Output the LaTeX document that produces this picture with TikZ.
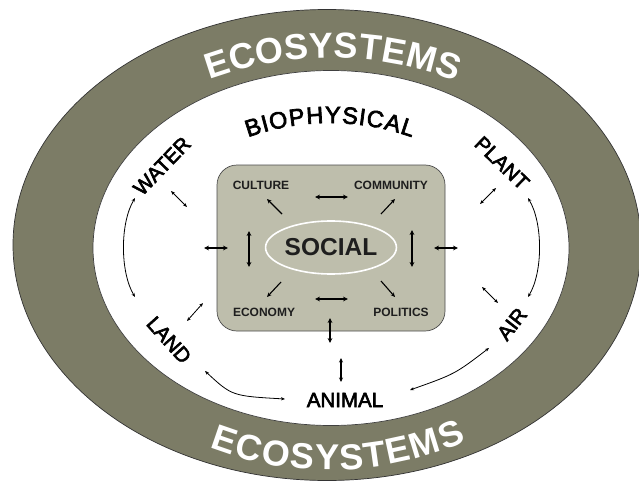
\documentclass[tikz,border=0pt]{standalone}
\usepackage{fontspec}
\setmainfont{Liberation Sans}
\newfontfamily\lblfont[BoldFont=Liberation Sans, BoldFeatures={FakeBold=3}]{Liberation Sans}
\usetikzlibrary{arrows.meta,shapes.geometric,decorations.text}
\definecolor{band}{HTML}{7C7C66}
\definecolor{boxfill}{HTML}{BEBEAC}
\definecolor{boxtext}{HTML}{1E1E1E}
\newcommand\ecoF{\bfseries\fontsize{36}{40}\selectfont}
\newcommand\bioF{\lblfont\bfseries\fontsize{23.5}{26}\selectfont}
\tikzset{
  x=1pt, y=1pt,
  lbl/.style={font=\lblfont\bfseries\fontsize{20.5}{24}\selectfont, text=black, inner sep=0pt},
  boxlbl/.style={font=\bfseries\fontsize{12}{14}\selectfont, text=boxtext, inner sep=0pt},
  thinarr/.style={line width=0.8pt, {Stealth[length=4pt,width=3.2pt]}-{Stealth[length=4pt,width=3.2pt]}},
  diagarr/.style={line width=1.1pt, -{Stealth[length=4.5pt,width=4pt]}},
  thickarr/.style={line width=1.8pt, {Stealth[length=5pt,width=4.8pt]}-{Stealth[length=5pt,width=4.8pt]}},
  medarr/.style={line width=1.3pt, {Stealth[length=4.5pt,width=4pt]}-{Stealth[length=4.5pt,width=4pt]}},
  arctext/.style n args={3}{decorate, decoration={text effects along path, text={#1},
    text effects/.cd, text along path, fit text to path,
    characters={text=#2, font=#3, inner sep=0pt}}},
}
\begin{document}
\begin{tikzpicture}
\useasboundingbox (0,0) rectangle (639,483);
\fill[white] (0,0) rectangle (639,483);
% rings
\filldraw[fill=band, draw=black!80, line width=0.7pt] (327,238) ellipse [x radius=314, y radius=235.5];
\filldraw[fill=white, draw=black!75, line width=0.7pt] (331,235) ellipse [x radius=238, y radius=177.5];
% curved titles
\path[arctext={ECOSYSTEMS}{white}{\ecoF}] (330,72) ++(110:353) arc[start angle=110, end angle=69.1, radius=353];
\path[arctext={ECOSYSTEMS}{white}{\ecoF}] (330,348) ++(249:335) arc[start angle=249, end angle=294, radius=335];
\path[arctext={BIOPHYSICAL}{black}{\bioF}] (330,117) ++(109.7:243) arc[start angle=109.7, end angle=70.3, radius=243];
% social box
\node[draw=black!70, line width=0.7pt, fill=boxfill, rounded corners=20pt,
  minimum width=228pt, minimum height=166pt] (box) at (331,235) {};
\node[ellipse, draw=white, line width=1.6pt, fill=boxfill, minimum width=124pt, minimum height=53pt,
  inner sep=0pt, font=\bfseries\fontsize{24.5}{28}\selectfont, text=boxtext] (social) at (331,235.5) {SOCIAL};
\node[boxlbl] (culture) at (261,298) {CULTURE};
\node[boxlbl] (community) at (391,298) {COMMUNITY};
\node[boxlbl] (economy) at (264,171) {ECONOMY};
\node[boxlbl] (politics) at (401,171) {POLITICS};
% biophysical labels
\node[lbl, rotate=46] (water) at (162,317) {WATER};
\node[lbl, rotate=-44] (plant) at (502,320) {PLANT};
\node[lbl, rotate=-48] (land) at (169,143) {LAND};
\node[lbl, rotate=52] (air) at (512,159) {AIR};
\node[lbl] (animal) at (345,83) {ANIMAL};
% arrow end points
\coordinate (a1s) at (315,286); \coordinate (a1e) at (348,286);
\coordinate (a2s) at (315,184); \coordinate (a2e) at (348,184);
\coordinate (a3s) at (249,252); \coordinate (a3e) at (249,216);
\coordinate (a4s) at (412,253); \coordinate (a4e) at (412,216);
\coordinate (d1s) at (282,269); \coordinate (d1e) at (267,284);
\coordinate (d2s) at (381,269); \coordinate (d2e) at (395,284);
\coordinate (d3s) at (281,201); \coordinate (d3e) at (267,186);
\coordinate (d4s) at (381,202); \coordinate (d4e) at (395,186);
\coordinate (o1s) at (204,235); \coordinate (o1e) at (228,235);
\coordinate (o2s) at (434,235); \coordinate (o2e) at (458,235);
\coordinate (o3s) at (330,165); \coordinate (o3e) at (330,140);
\coordinate (o4s) at (341,125); \coordinate (o4e) at (341,101);
\coordinate (s1s) at (171,292); \coordinate (s1e) at (187,276);
\coordinate (s2s) at (480,279); \coordinate (s2e) at (496,295);
\coordinate (s3s) at (187,162); \coordinate (s3e) at (203,180);
\coordinate (s4s) at (482,196); \coordinate (s4e) at (498,180);
\coordinate (c1s) at (135,285); \coordinate (c1e) at (135,186);
\coordinate (c2s) at (528,285); \coordinate (c2e) at (528,186);
\coordinate (c3s) at (205,112); \coordinate (c3e) at (285,84);
\coordinate (c4s) at (410,93);  \coordinate (c4e) at (489,135);
% arrows in the box
\draw[thickarr] (a1s) -- (a1e);
\draw[thickarr] (a2s) -- (a2e);
\draw[thickarr] (a3s) -- (a3e);
\draw[thickarr] (a4s) -- (a4e);
\draw[diagarr] (d1s) -- (d1e);
\draw[diagarr] (d2s) -- (d2e);
\draw[diagarr] (d3s) -- (d3e);
\draw[diagarr] (d4s) -- (d4e);
% arrows around the box
\draw[thickarr] (o1s) -- (o1e);
\draw[thickarr] (o2s) -- (o2e);
\draw[thickarr] (o3s) -- (o3e);
\draw[medarr] (o4s) -- (o4e);
\draw[thinarr] (s1s) -- (s1e);
\draw[thinarr] (s2s) -- (s2e);
\draw[thinarr] (s3s) -- (s3e);
\draw[thinarr] (s4s) -- (s4e);
% curved arrows between the biophysical labels
\draw[thinarr] (c1s) .. controls (120,260) and (120,211) .. (c1e);
\draw[thinarr] (c2s) .. controls (543,260) and (543,211) .. (c2e);
\draw[thinarr] (c3s) .. controls (232,87) .. (c3e);
\draw[thinarr] (c4s) .. controls (455,109) .. (c4e);
\end{tikzpicture}
\end{document}
